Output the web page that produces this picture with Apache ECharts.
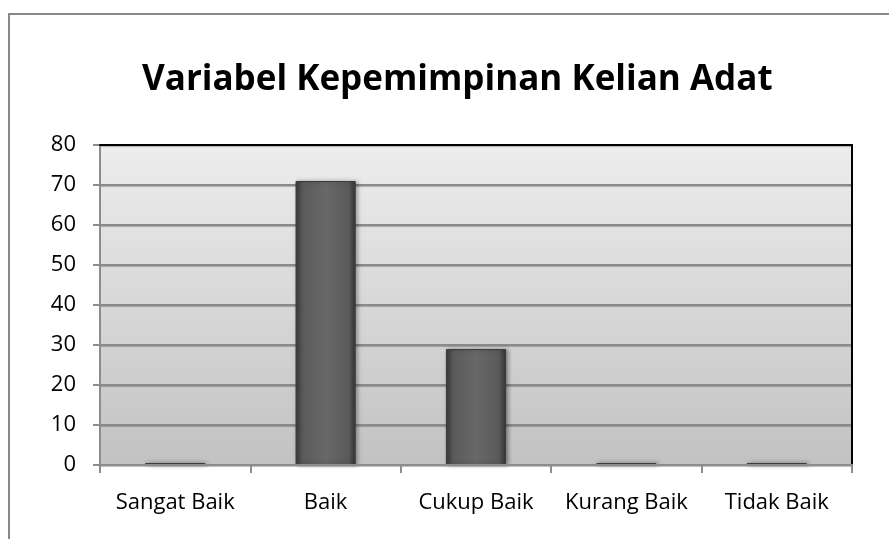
<!DOCTYPE html>
<html>
<head>
<meta charset="utf-8">
<script src="https://cdn.jsdelivr.net/npm/echarts@6/dist/echarts.min.js"></script>
<style>
  html, body { margin: 0; padding: 0; background: #fff; }
  #chart { width: 889px; height: 539px; }
</style>
</head>
<body>
<div id="chart"></div>
<script>
const categories = ["Sangat Baik", "Baik", "Cukup Baik", "Kurang Baik", "Tidak Baik"];
const values = [0, 71, 29, 0, 0];
const yTicks = { min: 0, max: 80, interval: 10 };

const chart = echarts.init(document.getElementById("chart"));
const font = "'Open Sans', 'Noto Sans', sans-serif";

chart.setOption({
  animation: false,
  backgroundColor: "#fff",
  title: {
    text: "Variabel Kepemimpinan Kelian Adat",
    left: 137,
    top: 58,
    textStyle: { fontFamily: font, fontSize: 35, fontWeight: "bold", color: "#000" }
  },
  graphic: [
    {
      type: "rect",
      shape: { x: 9, y: 14, width: 900, height: 600 },
      style: { fill: "none", stroke: "#888", lineWidth: 2 },
      z: 0
    }
  ],
  grid: {
    left: 100, right: 37, top: 145, bottom: 74,
    show: true,
    borderWidth: 0,
    backgroundColor: new echarts.graphic.LinearGradient(0, 0, 0, 1, [
      { offset: 0, color: "#ededed" },
      { offset: 1, color: "#c2c2c2" }
    ])
  },
  xAxis: [
    {
      type: "category",
      data: categories,
      axisLine: { lineStyle: { color: "#8c8c8c", width: 2 } },
      axisTick: { show: true, length: 8, lineStyle: { color: "#8c8c8c", width: 2 } },
      axisLabel: { fontFamily: font, fontSize: 22, color: "#000", margin: 27, interval: 0 },
      z: 5
    },
    {
      type: "category",
      data: categories,
      position: "top",
      axisLine: { onZero: false, lineStyle: { color: "#000", width: 2 } },
      axisTick: { show: false },
      axisLabel: { show: false },
      z: 6
    }
  ],
  yAxis: [
    {
      type: "value",
      min: yTicks.min,
      max: yTicks.max,
      interval: yTicks.interval,
      axisLine: { show: true, lineStyle: { color: "#8c8c8c", width: 2 } },
      axisTick: { show: true, length: 7, lineStyle: { color: "#8c8c8c", width: 2 } },
      axisLabel: { fontFamily: font, fontSize: 22, color: "#000", margin: 24 },
      splitLine: {
        show: true,
        lineStyle: { color: "#8a8a8a", width: 2, shadowColor: "rgba(0,0,0,0.25)", shadowOffsetY: 1, shadowBlur: 1 }
      }
    },
    {
      type: "value",
      position: "right",
      min: yTicks.min,
      max: yTicks.max,
      interval: yTicks.interval,
      axisLine: { show: true, onZero: false, lineStyle: { color: "#000", width: 2 } },
      axisTick: { show: false },
      axisLabel: { show: false },
      splitLine: { show: false }
    }
  ],
  series: [
    {
      type: "bar",
      data: values,
      barWidth: "40%",
      barMinHeight: 2,
      itemStyle: {
        color: new echarts.graphic.LinearGradient(0, 0, 1, 0, [
          { offset: 0, color: "#3c3c3c" },
          { offset: 0.12, color: "#5a5a5a" },
          { offset: 0.5, color: "#686868" },
          { offset: 0.88, color: "#5a5a5a" },
          { offset: 1, color: "#333" }
        ]),
        borderColor: "#3a3a3a",
        borderWidth: 1,
        shadowColor: "rgba(0,0,0,0.35)",
        shadowBlur: 4,
        shadowOffsetX: 2
      }
    }
  ]
});
</script>
</body>
</html>
